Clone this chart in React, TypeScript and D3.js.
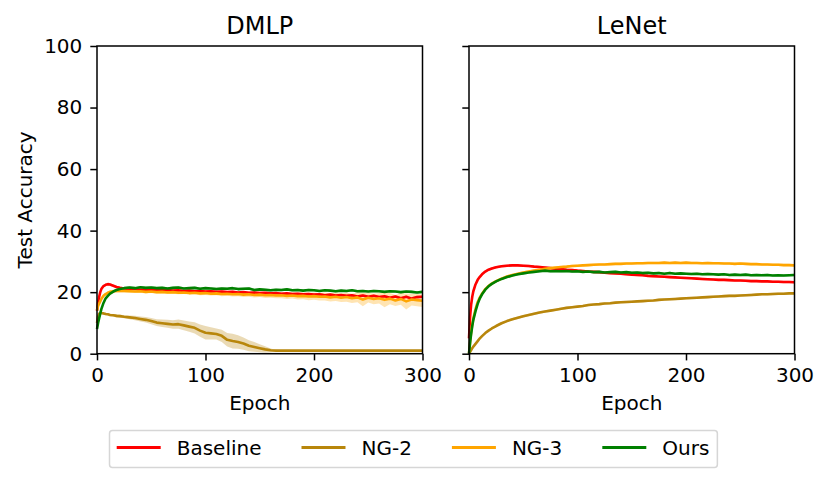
import * as React from 'react';
import * as d3 from 'd3';

// shared epoch grid for every series
const epochs: number[] = [
	0, 1, 2, 3, 4, 6, 8, 10, 12, 15, 18, 21,
	25, 30, 35, 40, 45, 50, 55, 60, 65, 70, 75, 80,
	85, 90, 95, 100, 105, 110, 115, 120, 125, 130, 135, 140,
	145, 150, 155, 160, 165, 170, 175, 180, 185, 190, 195, 200,
	205, 210, 215, 220, 225, 230, 235, 240, 245, 250, 255, 260,
	265, 270, 275, 280, 285, 290, 295, 300,
];

const panelTitles: string[] = ['DMLP', 'LeNet'];
const seriesNames: string[] = ['Baseline', 'NG-2', 'NG-3', 'Ours'];
const seriesColors: string[] = ['#ff0000', '#b8860b', '#ffa500', '#008000'];
const xTicks: number[] = [0, 100, 200, 300];
const yTicks: number[] = [0, 20, 40, 60, 80, 100];

// DMLP
const dmlpBaseline: number[] = [
	14, 16.5, 18.5, 20, 21, 22, 22.4, 22.6, 22.5, 22.1, 21.7, 21.4,
	21.2, 21.0, 21.1, 20.8, 20.9, 20.7, 20.8, 20.6, 20.7, 20.5, 20.6, 20.4,
	20.5, 20.3, 20.4, 20.2, 20.3, 20.1, 20.2, 20.0, 20.1, 19.9, 20.0, 19.8,
	19.9, 19.7, 19.8, 19.6, 19.7, 19.5, 19.6, 19.4, 19.5, 19.3, 19.4, 19.2,
	19.3, 19.0, 19.2, 18.9, 19.1, 18.8, 19.0, 18.6, 18.9, 18.5, 18.8, 18.4,
	18.7, 18.2, 18.6, 18.0, 18.5, 17.9, 18.4, 18.5,
];
const dmlpNg2: number[] = [
	10, 12, 13, 13.3, 13.2, 13.1, 12.9, 12.8, 12.6, 12.5, 12.3, 12.2,
	12.0, 11.8, 11.6, 11.3, 11.0, 10.6, 10.1, 9.9, 9.7, 9.5, 9.6, 9.2,
	8.8, 8.4, 7.5, 6.8, 6.6, 6.4, 5.8, 4.5, 4.1, 3.8, 3.3, 2.6,
	2.2, 1.8, 1.4, 1.1, 1.0, 1.0, 1.0, 1.0, 1.0, 1.0, 1.0, 1.0,
	1.0, 1.0, 1.0, 1.0, 1.0, 1.0, 1.0, 1.0, 1.0, 1.0, 1.0, 1.0,
	1.0, 1.0, 1.0, 1.0, 1.0, 1.0, 1.0, 1.0,
];
const dmlpNg3: number[] = [
	14, 15.5, 16.3, 17, 17.8, 18.8, 19.4, 19.8, 20.1, 20.3, 20.4, 20.4,
	20.4, 20.3, 20.2, 20.3, 20.1, 20.2, 20.0, 20.1, 19.9, 20.0, 19.8, 19.9,
	19.7, 19.8, 19.6, 19.7, 19.5, 19.6, 19.4, 19.5, 19.3, 19.4, 19.2, 19.3,
	19.1, 19.2, 19.0, 19.1, 18.9, 19.0, 18.8, 18.9, 18.7, 18.8, 18.6, 18.7,
	18.5, 18.6, 18.3, 18.5, 18.2, 18.4, 18.0, 18.3, 17.6, 18.2, 17.8, 18.0,
	17.5, 17.9, 17.3, 17.8, 17.0, 17.6, 17.4, 17.2,
];
const dmlpOurs: number[] = [
	8, 10, 11.5, 13, 14.5, 16.5, 18, 18.8, 19.5, 20.2, 20.7, 21.0,
	21.3, 21.5, 21.3, 21.6, 21.4, 21.5, 21.3, 21.4, 21.2, 21.4, 21.5, 21.2,
	21.3, 21.4, 21.1, 21.3, 21.2, 21.0, 21.2, 21.1, 21.3, 21.0, 21.1, 21.2,
	20.7, 20.9, 20.8, 20.6, 20.8, 20.7, 20.9, 20.6, 20.7, 20.5, 20.7, 20.6,
	20.4, 20.6, 20.5, 20.3, 20.5, 20.4, 20.6, 20.3, 20.4, 20.2, 20.4, 20.3,
	20.1, 20.3, 20.2, 20.0, 20.2, 20.1, 19.9, 20.1,
];
// half-width of the shaded bands that are visibly wider than the line
const dmlpNg2Band: number[] = [
	0.5, 0.5, 0.5, 0.4, 0.4, 0.4, 0.4, 0.4, 0.4, 0.4, 0.5, 0.5,
	0.5, 0.6, 0.7, 0.8, 0.9, 1.0, 1.1, 1.2, 1.3, 1.4, 1.5, 1.6,
	1.7, 1.8, 2.0, 2.2, 2.0, 1.8, 2.0, 2.2, 2.4, 2.2, 2.0, 1.8,
	1.6, 1.3, 1.0, 0.6, 0.3, 0.2, 0.2, 0.2, 0.2, 0.2, 0.2, 0.2,
	0.2, 0.2, 0.2, 0.2, 0.2, 0.2, 0.2, 0.2, 0.2, 0.2, 0.2, 0.2,
	0.2, 0.2, 0.2, 0.2, 0.2, 0.2, 0.2, 0.2,
];
const dmlpNg3Band: number[] = [
	0.6, 0.6, 0.6, 0.5, 0.5, 0.5, 0.5, 0.5, 0.5, 0.5, 0.5, 0.5,
	0.5, 0.5, 0.5, 0.5, 0.5, 0.5, 0.5, 0.5, 0.5, 0.5, 0.5, 0.5,
	0.5, 0.5, 0.6, 0.6, 0.6, 0.6, 0.7, 0.7, 0.7, 0.7, 0.8, 0.8,
	0.8, 0.8, 0.9, 0.9, 0.9, 1.0, 1.0, 1.0, 1.1, 1.1, 1.2, 1.2,
	1.2, 1.3, 1.3, 1.4, 1.4, 1.5, 1.5, 1.6, 2.2, 1.6, 1.7, 1.7,
	2.4, 1.8, 1.8, 1.9, 2.6, 1.9, 2.0, 2.0,
];

// LeNet
const lenetBaseline: number[] = [
	5, 12, 16, 18.5, 20.3, 22.5, 24, 25, 25.8, 26.7, 27.3, 27.7,
	28.1, 28.4, 28.6, 28.7, 28.7, 28.6, 28.5, 28.3, 28.2, 28.0, 27.8, 27.6,
	27.5, 27.3, 27.2, 27.0, 26.9, 26.7, 26.6, 26.5, 26.3, 26.2, 26.1, 26.0,
	25.8, 25.7, 25.6, 25.5, 25.3, 25.2, 25.1, 25.0, 24.9, 24.8, 24.7, 24.6,
	24.5, 24.4, 24.3, 24.2, 24.1, 24.0, 24.0, 23.9, 23.8, 23.8, 23.7, 23.6,
	23.6, 23.5, 23.5, 23.4, 23.4, 23.3, 23.3, 23.2,
];
const lenetNg2: number[] = [
	0, 0.6, 1.2, 1.8, 2.3, 3.2, 4.1, 5.0, 5.7, 6.7, 7.5, 8.2,
	9.0, 9.9, 10.6, 11.2, 11.7, 12.2, 12.6, 13.0, 13.4, 13.7, 14.0, 14.3,
	14.6, 14.9, 15.1, 15.3, 15.5, 15.8, 16.0, 16.1, 16.3, 16.4, 16.6, 16.7,
	16.8, 16.9, 17.0, 17.1, 17.2, 17.3, 17.5, 17.6, 17.7, 17.8, 17.9, 18.0,
	18.1, 18.2, 18.3, 18.4, 18.5, 18.6, 18.7, 18.8, 18.8, 18.9, 19.0, 19.1,
	19.2, 19.3, 19.3, 19.4, 19.5, 19.5, 19.6, 19.6,
];
const lenetNg3: number[] = [
	0, 4, 7, 9.5, 11.5, 14.5, 16.8, 18.3, 19.5, 21, 22, 22.8,
	23.6, 24.4, 25.1, 25.6, 26.0, 26.4, 26.7, 27.0, 27.3, 27.6, 27.8, 28.0,
	28.2, 28.3, 28.5, 28.6, 28.7, 28.8, 28.9, 29.0, 29.0, 29.1, 29.2, 29.2,
	29.3, 29.3, 29.4, 29.4, 29.5, 29.5, 29.5, 29.6, 29.5, 29.6, 29.5, 29.6,
	29.5, 29.5, 29.4, 29.5, 29.4, 29.4, 29.3, 29.3, 29.2, 29.3, 29.2, 29.1,
	29.1, 29.0, 29.0, 28.9, 28.9, 28.8, 28.8, 28.7,
];
const lenetOurs: number[] = [
	0, 3.5, 6.5, 9, 11, 13.8, 16.2, 18, 19.3, 20.8, 21.9, 22.7,
	23.5, 24.3, 24.9, 25.4, 25.8, 26.1, 26.4, 26.6, 26.8, 27.0, 26.8, 26.9,
	26.8, 26.9, 26.7, 26.8, 26.6, 26.7, 26.5, 26.6, 26.4, 26.5, 26.6, 26.4,
	26.5, 26.3, 26.4, 26.2, 26.3, 26.1, 26.2, 26.0, 26.2, 26.0, 26.1, 26.0,
	25.9, 26.0, 25.8, 25.9, 25.8, 25.7, 25.8, 25.6, 25.7, 25.6, 25.7, 25.5,
	25.6, 25.5, 25.6, 25.4, 25.5, 25.4, 25.5, 25.6,
];

const panelSeries: number[][][] = [
	[dmlpBaseline, dmlpNg2, dmlpNg3, dmlpOurs],
	[lenetBaseline, lenetNg2, lenetNg3, lenetOurs],
];
const panelBands: (number[] | null)[][] = [
	[null, dmlpNg2Band, dmlpNg3Band, null],
	[null, null, null, null],
];

const WIDTH = 829;
const HEIGHT = 482;
const FONT = '"DejaVu Sans", sans-serif';
const FONT_SIZE = 20;

const App: React.FC = () => {
	const ref = React.useRef<SVGSVGElement>(null);

	React.useEffect(() => {
		const svg = d3.select(ref.current);
		svg.selectAll('*').remove();

		const top = 46;
		const bottom = 353.7;
		const panelLefts = [97, 469];
		const panelWidth = 325.5;

		const y = d3.scaleLinear().domain([0, 100]).range([bottom, top]);

		panelTitles.forEach((title, p) => {
			const x = d3.scaleLinear().domain([0, 300]).range([panelLefts[p], panelLefts[p] + panelWidth]);
			const g = svg.append('g');

			// shaded spread + mean line for each series
			panelSeries[p].forEach((values, s) => {
				const band = panelBands[p][s];
				const area = d3
					.area<number>()
					.x((_, i) => x(epochs[i]))
					.y0((v, i) => y(Math.max(0, v - (band ? band[i] : 0.4))))
					.y1((v, i) => y(v + (band ? band[i] : 0.4)));
				g.append('path')
					.attr('d', area(values))
					.attr('fill', seriesColors[s])
					.attr('fill-opacity', 0.3);
			});
			panelSeries[p].forEach((values, s) => {
				const line = d3
					.line<number>()
					.x((_, i) => x(epochs[i]))
					.y((v) => y(v));
				g.append('path')
					.attr('d', line(values))
					.attr('fill', 'none')
					.attr('stroke', seriesColors[s])
					.attr('stroke-width', 2.6)
					.attr('stroke-linejoin', 'round');
			});

			// frame
			g.append('rect')
				.attr('x', x(0))
				.attr('y', top)
				.attr('width', panelWidth)
				.attr('height', bottom - top)
				.attr('fill', 'none')
				.attr('stroke', '#000')
				.attr('stroke-width', 1.5);

			// x axis
			const xAxis = g
				.append('g')
				.attr('transform', `translate(0,${bottom})`)
				.call(d3.axisBottom(x).tickValues(xTicks).tickSize(6.7).tickPadding(7.5).tickFormat(d3.format('d')));
			xAxis.select('.domain').remove();
			xAxis.selectAll('line').attr('stroke-width', 1.5);
			xAxis.selectAll('text').attr('font-size', FONT_SIZE).attr('font-family', FONT).attr('fill', '#000');

			// y axis
			const yAxis = g
				.append('g')
				.attr('transform', `translate(${x(0)},0)`)
				.call(
					d3
						.axisLeft(y)
						.tickValues(yTicks)
						.tickSize(6.7)
						.tickPadding(8)
						.tickFormat(p === 0 ? d3.format('d') : () => '')
				);
			yAxis.select('.domain').remove();
			yAxis.selectAll('line').attr('stroke-width', 1.5);
			yAxis.selectAll('text').attr('font-size', FONT_SIZE).attr('font-family', FONT).attr('fill', '#000');

			g.append('text')
				.attr('x', x(150))
				.attr('y', 34)
				.attr('text-anchor', 'middle')
				.attr('font-size', 24)
				.attr('font-family', FONT)
				.text(title);

			g.append('text')
				.attr('x', x(150))
				.attr('y', 410)
				.attr('text-anchor', 'middle')
				.attr('font-size', FONT_SIZE)
				.attr('font-family', FONT)
				.text('Epoch');
		});

		svg.append('text')
			.attr('transform', `translate(32,${(top + bottom) / 2}) rotate(-90)`)
			.attr('text-anchor', 'middle')
			.attr('font-size', FONT_SIZE)
			.attr('font-family', FONT)
			.text('Test Accuracy');

		// legend
		const legend = svg.append('g');
		const box = legend
			.append('rect')
			.attr('x', 109.5)
			.attr('y', 430.5)
			.attr('height', 37)
			.attr('rx', 3)
			.attr('fill', '#fff')
			.attr('stroke', '#d6d6d6')
			.attr('stroke-width', 1.5);
		let cx = 116.7;
		const ly = 447.5;
		seriesNames.forEach((name, s) => {
			legend.append('line')
				.attr('x1', cx)
				.attr('x2', cx + 44)
				.attr('y1', ly)
				.attr('y2', ly)
				.attr('stroke', seriesColors[s])
				.attr('stroke-width', 2.8);
			const t = legend.append('text')
				.attr('x', cx + 60)
				.attr('y', ly + 7)
				.attr('font-size', FONT_SIZE)
				.attr('font-family', FONT)
				.text(name);
			const w = (t.node() as SVGTextElement).getComputedTextLength();
			cx += 60 + w + 40;
		});
		box.attr('width', cx - 40 + 8 - 109.5);
	}, []);

	return (
		<svg
			ref={ref}
			width={WIDTH}
			height={HEIGHT}
			viewBox={`0 0 ${WIDTH} ${HEIGHT}`}
			style={{ position: 'absolute', left: 0, top: 0, background: '#fff' }}
		/>
	);
};

export default App;
